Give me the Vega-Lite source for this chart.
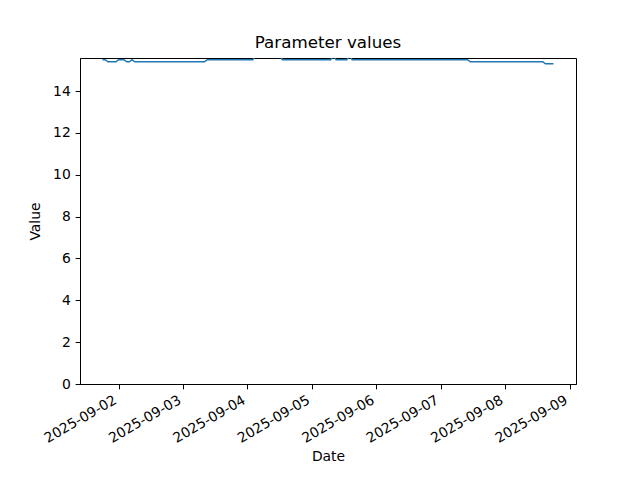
{
  "$schema": "https://vega.github.io/schema/vega-lite/v6.json",
  "width": 496,
  "height": 326,
  "autosize": {"type": "none"},
  "padding": {"left": 80, "top": 58, "right": 64, "bottom": 96},
  "background": "white",
  "title": {"text": "Parameter values", "font": "DejaVu Sans", "fontSize": 16.7, "fontWeight": "normal", "color": "black", "offset": 6},
  "config": {
    "view": {"stroke": "black", "strokeWidth": 1},
    "axis": {"labelFont": "DejaVu Sans", "titleFont": "DejaVu Sans", "labelFontSize": 13.9, "titleFontSize": 13.9, "titleFontWeight": "normal", "labelColor": "black", "titleColor": "black", "domainColor": "black", "tickColor": "black", "tickSize": 4.86, "grid": false}
  },
  "data": {
    "values": [
      {"date": "2025-09-01T18:00:00Z", "value": 15.5},
      {"date": "2025-09-01T19:00:00Z", "value": 15.5},
      {"date": "2025-09-01T20:00:00Z", "value": 15.4},
      {"date": "2025-09-01T23:00:00Z", "value": 15.4},
      {"date": "2025-09-02T00:00:00Z", "value": 15.5},
      {"date": "2025-09-02T02:00:00Z", "value": 15.5},
      {"date": "2025-09-02T03:00:00Z", "value": 15.4},
      {"date": "2025-09-02T04:00:00Z", "value": 15.4},
      {"date": "2025-09-02T05:00:00Z", "value": 15.5},
      {"date": "2025-09-02T06:00:00Z", "value": 15.4},
      {"date": "2025-09-03T08:00:00Z", "value": 15.4},
      {"date": "2025-09-03T09:00:00Z", "value": 15.5},
      {"date": "2025-09-04T02:00:00Z", "value": 15.5},
      {"date": "2025-09-04T03:00:00Z", "value": 15.7},
      {"date": "2025-09-04T12:00:00Z", "value": 15.7},
      {"date": "2025-09-04T13:00:00Z", "value": 15.5},
      {"date": "2025-09-05T07:00:00Z", "value": 15.5},
      {"date": "2025-09-05T08:00:00Z", "value": 15.7},
      {"date": "2025-09-05T09:00:00Z", "value": 15.5},
      {"date": "2025-09-05T13:00:00Z", "value": 15.5},
      {"date": "2025-09-05T14:00:00Z", "value": 15.7},
      {"date": "2025-09-05T15:00:00Z", "value": 15.5},
      {"date": "2025-09-07T10:00:00Z", "value": 15.5},
      {"date": "2025-09-07T11:00:00Z", "value": 15.4},
      {"date": "2025-09-08T14:00:00Z", "value": 15.4},
      {"date": "2025-09-08T15:00:00Z", "value": 15.3},
      {"date": "2025-09-08T18:00:00Z", "value": 15.3}
    ]
  },
  "mark": {"type": "line", "color": "#1f77b4", "strokeWidth": 1.5, "clip": true},
  "encoding": {
    "x": {
      "field": "date",
      "type": "temporal",
      "title": "Date",
      "scale": {"type": "utc", "domain": [
        {"year": 2025, "month": 9, "date": 1, "hours": 9, "minutes": 36, "utc": true},
        {"year": 2025, "month": 9, "date": 9, "hours": 2, "minutes": 24, "utc": true}
      ], "nice": false},
      "axis": {
        "values": [
          {"year": 2025, "month": 9, "date": 2, "utc": true},
          {"year": 2025, "month": 9, "date": 3, "utc": true},
          {"year": 2025, "month": 9, "date": 4, "utc": true},
          {"year": 2025, "month": 9, "date": 5, "utc": true},
          {"year": 2025, "month": 9, "date": 6, "utc": true},
          {"year": 2025, "month": 9, "date": 7, "utc": true},
          {"year": 2025, "month": 9, "date": 8, "utc": true},
          {"year": 2025, "month": 9, "date": 9, "utc": true}
        ],
        "format": "%Y-%m-%d",
        "labelAngle": -30,
        "labelAlign": "right",
        "labelBaseline": "bottom",
        "labelPadding": 16,
        "labelOverlap": false,
        "titlePadding": 4
      }
    },
    "y": {
      "field": "value",
      "type": "quantitative",
      "title": "Value",
      "scale": {"domain": [0, 15.58], "nice": false, "zero": false},
      "axis": {"values": [0, 2, 4, 6, 8, 10, 12, 14], "labelPadding": 4.86, "titlePadding": 10}
    }
  }
}
